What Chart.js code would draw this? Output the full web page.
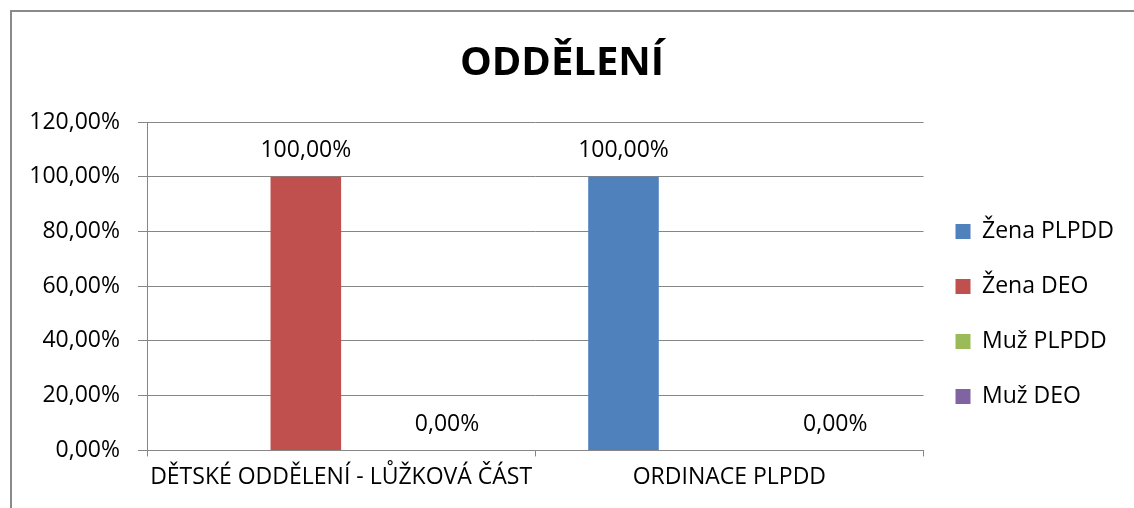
<!DOCTYPE html>
<html>
<head>
<meta charset="utf-8">
<script src="https://cdn.jsdelivr.net/npm/chart.js@4/dist/chart.umd.min.js"></script>
<style>
  html, body { margin: 0; padding: 0; background: #fff; }
  #wrap { position: relative; width: 1134px; height: 508px; }
</style>
</head>
<body>
<div id="wrap"><canvas id="myChart" width="1134" height="508"></canvas></div>
<script>
// data
const categories = ['DĚTSKÉ ODDĚLENÍ - LŮŽKOVÁ ČÁST', 'ORDINACE PLPDD'];
const zenaPlpdd = [null, 100];
const zenaDeo = [100, null];
const muzPlpdd = [null, null];
const muzDeo = [0, 0];
const yTicks = [0, 20, 40, 60, 80, 100, 120];

const FONT = "'Open Sans', sans-serif";
const gridGray = '#868686';

function pct(v) {
    return v.toFixed(2).replace('.', ',') + '%';
}

// outer frame like the excel chart border (only top/left visible)
const framePlugin = {
    id: 'frame',
    beforeDraw(chart) {
        const c = chart.ctx;
        c.save();
        c.fillStyle = '#fff';
        c.fillRect(0, 0, chart.width, chart.height);
        c.strokeStyle = '#8a8a8a';
        c.lineWidth = 2;
        c.beginPath();
        c.moveTo(11, chart.height);
        c.lineTo(11, 11);
        c.lineTo(chart.width, 11);
        c.stroke();
        c.restore();
    }
};

// value labels above bars
const valueLabels = {
    id: 'valueLabels',
    afterDatasetsDraw(chart) {
        const c = chart.ctx;
        c.save();
        c.font = '23px ' + FONT;
        c.fillStyle = '#000';
        c.textAlign = 'center';
        c.textBaseline = 'middle';
        chart.data.datasets.forEach((ds, i) => {
            const meta = chart.getDatasetMeta(i);
            meta.data.forEach((bar, j) => {
                const v = ds.data[j];
                if (v === null || v === undefined) return;
                c.fillText(pct(v), bar.x, bar.y - 26);
            });
        });
        c.restore();
    }
};

let ctx = document.getElementById('myChart');

var data = {
    labels: categories,
    datasets: [
        { label: 'Žena PLPDD', data: zenaPlpdd, backgroundColor: '#4F81BD' },
        { label: 'Žena DEO', data: zenaDeo, backgroundColor: '#C0504D' },
        { label: 'Muž PLPDD', data: muzPlpdd, backgroundColor: '#9BBB59' },
        { label: 'Muž DEO', data: muzDeo, backgroundColor: '#8064A2' }
    ]
};

var myChart = new Chart(ctx, {
    type: 'bar',
    data: data,
    options: {
        responsive: false,
        animation: false,
        layout: { padding: { left: 0, right: 10, top: 0, bottom: 10 } },
        datasets: {
            bar: { categoryPercentage: 4 / 5.5, barPercentage: 1, borderWidth: 0 }
        },
        plugins: {
            title: {
                display: true,
                text: 'ODDĚLENÍ',
                color: '#000',
                font: { family: FONT, size: 40, weight: 'bold' },
                padding: { top: 40, bottom: 34 }
            },
            legend: {
                position: 'right',
                align: 'start',
                // blank title only pushes the entries down to the middle of the plot
                title: { display: true, text: ' ', font: { size: 10 }, padding: 88 },
                labels: {
                    color: '#000',
                    font: { family: FONT, size: 23 },
                    boxWidth: 15,
                    boxHeight: 15,
                    padding: 32
                }
            },
            tooltip: { enabled: false }
        },
        scales: {
            x: {
                grid: {
                    offset: true,
                    drawOnChartArea: false,
                    drawTicks: true,
                    tickLength: 6,
                    color: gridGray
                },
                border: { color: gridGray },
                ticks: {
                    color: '#000',
                    font: { family: FONT, size: 23 },
                    padding: 7,
                    maxRotation: 0,
                    autoSkip: false
                }
            },
            y: {
                min: 0,
                max: 120,
                afterFit(scale) { scale.width = 147; },
                afterBuildTicks(scale) {
                    scale.ticks = yTicks.map(v => ({ value: v }));
                },
                grid: {
                    color: gridGray,
                    tickLength: 9
                },
                border: { color: gridGray },
                ticks: {
                    color: '#000',
                    font: { family: FONT, size: 23 },
                    padding: 18,
                    callback: v => pct(v)
                }
            }
        }
    },
    plugins: [framePlugin, valueLabels]
});
</script>
</body>
</html>
